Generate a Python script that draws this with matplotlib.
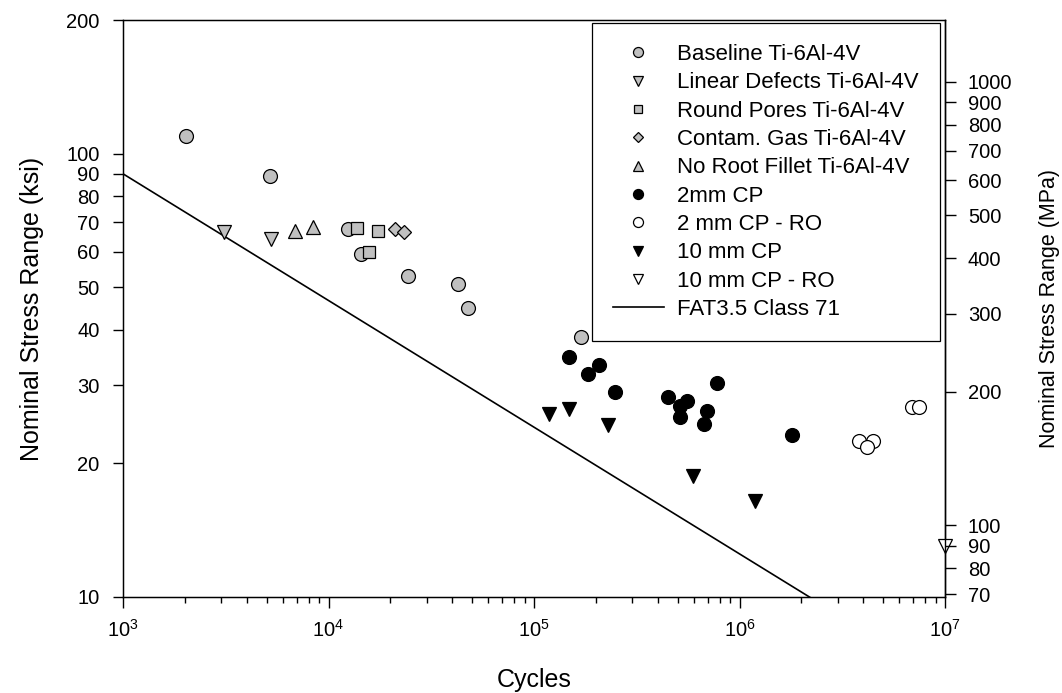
import matplotlib
matplotlib.use('Agg')
import matplotlib.pyplot as plt
from matplotlib.ticker import FixedLocator, NullLocator, FixedFormatter, LogLocator, NullFormatter

plt.rcParams['font.family'] = ['Liberation Sans', 'DejaVu Sans']
plt.rcParams['mathtext.fontset'] = 'custom'
plt.rcParams['mathtext.rm'] = 'Liberation Sans'
plt.rcParams['mathtext.it'] = 'Liberation Sans'

KSI_TO_MPA = 6.894757

# ---- data (cycles, stress range in ksi) ----
baseline_n = [2020, 5190, 12490, 14390, 24430, 42540, 47750, 169300]
baseline_s = [109.5, 88.8, 67.6, 59.3, 53.0, 50.9, 44.8, 38.5]

linear_n = [3100, 5250]
linear_s = [66.4, 64.3]

pores_n = [13760, 17350, 15800]
pores_s = [68.0, 67.0, 60.0]

gas_n = [21130, 23300]
gas_s = [67.7, 66.5]

noroot_n = [6870, 8410]
noroot_s = [67.0, 68.4]

cp2_n = [148600, 207900, 183200, 247700, 447300, 557000, 513400, 513400,
         774000, 696600, 671400, 1795000]
cp2_s = [34.7, 33.3, 31.9, 29.0, 28.3, 27.6, 26.9, 25.4, 30.4, 26.2, 24.6, 23.2]

cp2ro_n = [3830000, 4480000, 4160000, 6890000, 7500000]
cp2ro_s = [22.5, 22.5, 21.8, 26.8, 26.8]

cp10_n = [118700, 148600, 228400, 596000, 1190000]
cp10_s = [25.9, 26.6, 24.4, 18.7, 16.5]

cp10ro_n = [1.0e7]
cp10ro_s = [13.0]

fat_n = [1.0e3, 1.0e7]
fat_s = [90.0, 6.48]

x_ticks = [1e3, 1e4, 1e5, 1e6, 1e7]
x_ticklabels = [r'$\mathregular{10^{3}}$', r'$\mathregular{10^{4}}$', r'$\mathregular{10^{5}}$',
                r'$\mathregular{10^{6}}$', r'$\mathregular{10^{7}}$']
ksi_ticks = [10, 20, 30, 40, 50, 60, 70, 80, 90, 100, 200]
mpa_ticks = [70, 80, 90, 100, 200, 300, 400, 500, 600, 700, 800, 900, 1000]

GRAY = '#c0c0c0'
TICK_FS = 14.5

fig = plt.figure(figsize=(10.62, 6.93), dpi=100)
ax = fig.add_axes([123/1062, 1 - 597/693, (945 - 123)/1062, (597 - 20)/693])

ms = 10
common = dict(linestyle='none', markeredgecolor='black', markeredgewidth=0.9, markersize=ms, clip_on=False, zorder=3)

ax.plot(baseline_n, baseline_s, marker='o', markerfacecolor=GRAY, label='Baseline Ti-6Al-4V', **common)
ax.plot(linear_n, linear_s, marker='v', markerfacecolor=GRAY, label='Linear Defects Ti-6Al-4V', **common)
ax.plot(pores_n, pores_s, marker='s', markerfacecolor=GRAY, label='Round Pores Ti-6Al-4V',
        **{**common, 'markersize': ms * 0.85})
ax.plot(gas_n, gas_s, marker='D', markerfacecolor=GRAY, label='Contam. Gas Ti-6Al-4V',
        **{**common, 'markersize': ms * 0.75})
ax.plot(noroot_n, noroot_s, marker='^', markerfacecolor=GRAY, label='No Root Fillet Ti-6Al-4V', **common)
ax.plot(cp2_n, cp2_s, marker='o', markerfacecolor='black', label='2mm CP', **common)
ax.plot(cp2ro_n, cp2ro_s, marker='o', markerfacecolor='white', label='2 mm CP - RO', **common)
ax.plot(cp10_n, cp10_s, marker='v', markerfacecolor='black', label='10 mm CP', **common)
ax.plot(cp10ro_n, cp10ro_s, marker='v', markerfacecolor='white', label='10 mm CP - RO', **common)
ax.plot(fat_n, fat_s, color='black', linewidth=1.2, label='FAT3.5 Class 71', zorder=2)

ax.set_xscale('log')
ax.set_yscale('log')
ax.set_xlim(1e3, 1e7)
ax.set_ylim(10, 200)

ax.xaxis.set_major_locator(FixedLocator(x_ticks))
ax.xaxis.set_major_formatter(FixedFormatter(x_ticklabels))
ax.xaxis.set_minor_locator(LogLocator(base=10, subs=range(2, 10)))
ax.xaxis.set_minor_formatter(NullFormatter())

ax.yaxis.set_major_locator(FixedLocator(ksi_ticks))
ax.yaxis.set_major_formatter(FixedFormatter([str(t) for t in ksi_ticks]))
ax.yaxis.set_minor_locator(NullLocator())

ax.tick_params(axis='y', which='major', direction='out', length=7, width=1, labelsize=TICK_FS, pad=10)
ax.tick_params(axis='x', which='major', direction='out', length=8, width=1, labelsize=TICK_FS, pad=8)
ax.tick_params(axis='x', which='minor', direction='out', length=4, width=1)

ax.set_xlabel('Cycles', fontsize=18, labelpad=19)
ax.set_ylabel('Nominal Stress Range (ksi)', fontsize=18, labelpad=16)

for sp in ax.spines.values():
    sp.set_linewidth(1)

ax2 = ax.twinx()
ax2.set_yscale('log')
ax2.set_ylim(10 * KSI_TO_MPA, 200 * KSI_TO_MPA)
ax2.yaxis.set_major_locator(FixedLocator(mpa_ticks))
ax2.yaxis.set_major_formatter(FixedFormatter([str(t) for t in mpa_ticks]))
ax2.yaxis.set_minor_locator(NullLocator())
ax2.tick_params(axis='y', which='major', direction='out', length=8, width=1, labelsize=TICK_FS, pad=8.5)
ax2.set_ylabel('Nominal Stress Range (MPa)', fontsize=15.5, labelpad=19)
ax2.spines['right'].set_linewidth(1)

leg = ax.legend(loc='upper right', bbox_to_anchor=(0.9939, 0.9948), fontsize=16, frameon=True,
                fancybox=False, edgecolor='black', framealpha=1, markerscale=0.72,
                handlelength=2.3, handletextpad=0.6, labelspacing=0.33, borderpad=0.95,
                borderaxespad=0.0)
leg.get_frame().set_linewidth(0.9)
leg.set_zorder(5)

fig.savefig('out.png', dpi=100)
